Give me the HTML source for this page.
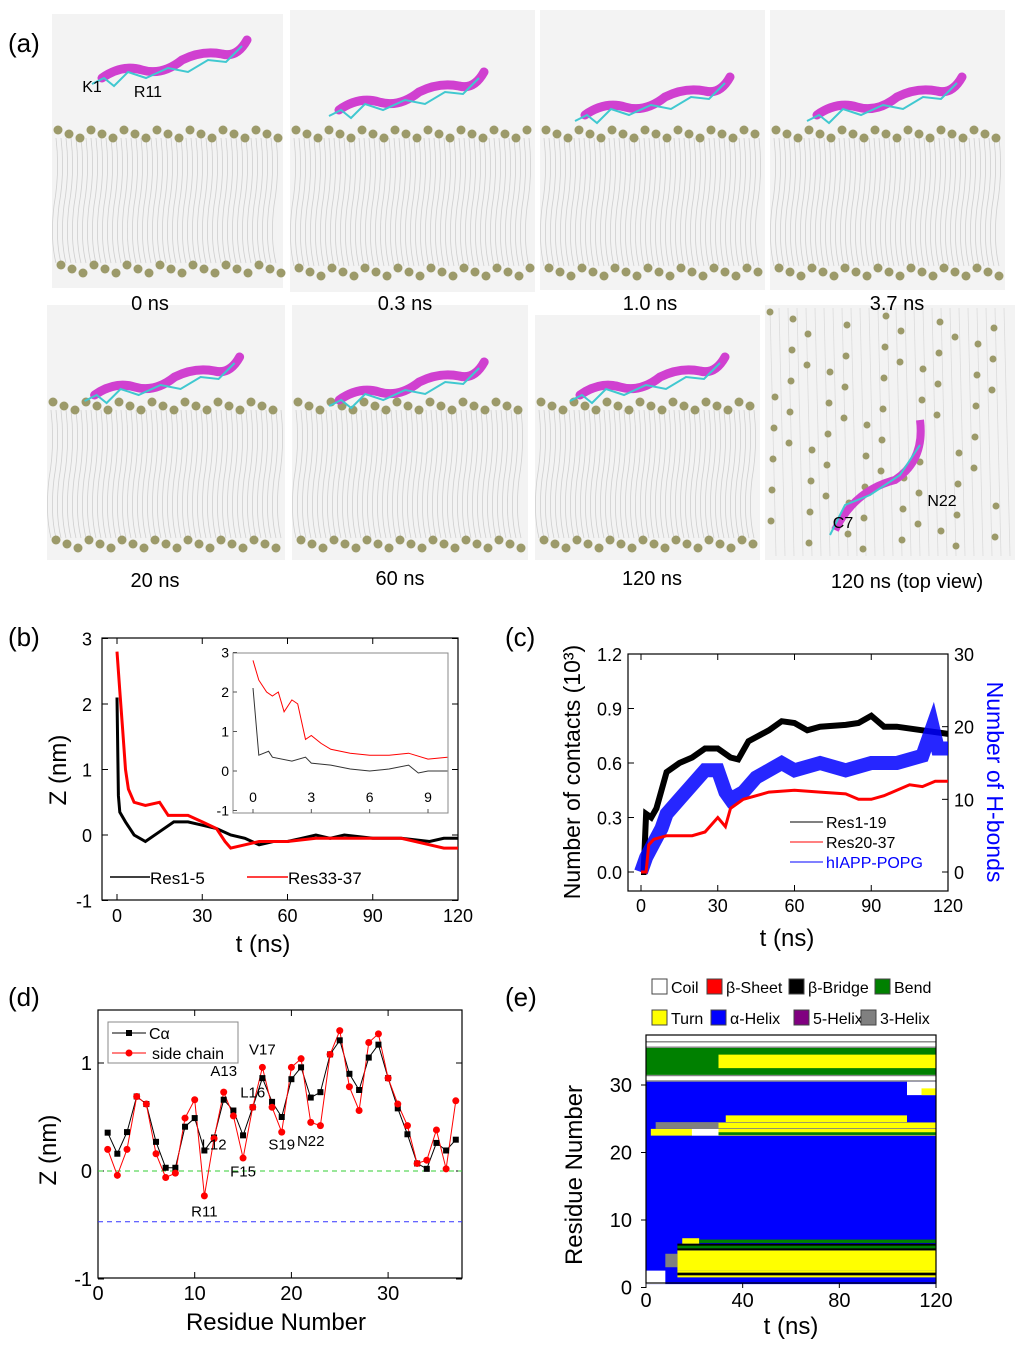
<!DOCTYPE html>
<html><head><meta charset="utf-8"><style>
html,body{margin:0;padding:0;background:#fff;}
svg{display:block;font-family:"Liberation Sans",sans-serif;}
</style></head><body>
<svg id="fig" width="1024" height="1352" viewBox="0 0 1024 1352" xmlns="http://www.w3.org/2000/svg">
<rect width="1024" height="1352" fill="#fff"/>
<g id="pa"></g>
<g id="pb"></g>
<g id="pc"></g>
<g id="pd"></g>
<g id="pe"></g>
<g font-size="26" fill="#000">
<text x="8" y="52">(a)</text>
<text x="8" y="646">(b)</text>
<text x="505" y="646">(c)</text>
<text x="8" y="1006">(d)</text>
<text x="505" y="1006">(e)</text>
</g>
</svg>
<script>
// ---------- data ----------
const bT=[0,0.5,1,3,6,10,15,20,25,30,35,40,45,50,55,60,65,70,75,80,90,100,110,115,120];
const bBlack=[2.1,0.6,0.35,0.2,0.0,-0.1,0.05,0.2,0.2,0.15,0.1,0,-0.05,-0.15,-0.1,-0.1,-0.05,0,-0.05,0,-0.05,-0.05,-0.1,-0.05,-0.05];
const bRedT=[0,1,2,3,4,6,10,15,18,20,25,30,35,38,40,45,50,60,70,80,90,100,110,115,120];
const bRed=[2.8,2.2,1.6,1.0,0.7,0.5,0.45,0.5,0.3,0.3,0.3,0.2,0.1,-0.1,-0.2,-0.15,-0.1,-0.1,-0.05,-0.05,-0.05,-0.05,-0.15,-0.2,-0.2];
const inT1=[0,0.3,0.8,1,2,2.7,3,4,5,6,7,8,8.5,9,10];
const inBlack=[2.1,0.4,0.5,0.35,0.25,0.35,0.2,0.15,0.05,0.0,0.05,0.15,-0.05,0.0,0.0];
const inT2=[0,0.3,0.7,1,1.3,1.6,2,2.3,2.7,3,3.5,4,5,6,7,8,9,10];
const inRed=[2.8,2.3,2.0,1.9,2.0,1.5,1.8,1.7,0.8,0.9,0.7,0.55,0.45,0.4,0.4,0.45,0.3,0.35];
const bXTicks=[0,30,60,90,120];
const bYTicks=[-1,0,1,2,3];
const inXTicks=[0,3,6,9];

const cT1=[0,1,2,4,6,8,10,15,20,25,30,35,38,42,50,55,60,65,70,80,85,90,95,100,110,120];
const cBlack=[0,0,0.32,0.3,0.35,0.45,0.55,0.6,0.63,0.68,0.68,0.63,0.62,0.72,0.78,0.83,0.82,0.78,0.8,0.81,0.82,0.86,0.8,0.8,0.78,0.76];
const cT2=[0,2,3,5,10,20,25,30,33,35,40,50,60,70,80,85,90,95,100,105,110,115,120];
const cRed=[0,0,0.15,0.18,0.2,0.2,0.22,0.3,0.25,0.35,0.4,0.44,0.45,0.44,0.43,0.4,0.4,0.42,0.45,0.48,0.47,0.5,0.5];
const cT3=[0,2,5,8,10,15,20,25,30,33,35,40,45,50,55,60,70,80,90,100,110,114,116,120];
const cBlue=[0,2,4,6,8,10,12,14,14,11,10,11,13,14,15,14,15,14,15,15,16,20,17,17];
const cXTicks=[0,30,60,90,120];
const cYTicks=[0,0.3,0.6,0.9,1.2];
const cYLabels=["0.0","0.3","0.6","0.9","1.2"];
const cRTicks=[0,10,20,30];

const dRes=[1,2,3,4,5,6,7,8,9,10,11,12,13,14,15,16,17,18,19,20,21,22,23,24,25,26,27,28,29,30,31,32,33,34,35,36,37];
const dCa=[0.355,0.16,0.36,0.69,0.62,0.27,0.03,0.03,0.41,0.49,0.19,0.31,0.66,0.56,0.33,0.59,0.86,0.64,0.5,0.85,0.96,0.68,0.73,1.08,1.21,0.9,0.75,1.05,1.17,0.86,0.58,0.34,0.07,0.02,0.26,0.19,0.29];
const dSide=[0.2,-0.04,0.2,0.69,0.62,0.16,-0.06,-0.02,0.49,0.66,-0.23,0.3,0.73,0.51,0.12,0.59,0.96,0.59,0.36,0.96,1.04,0.45,0.42,1.08,1.3,0.78,0.56,1.19,1.27,0.86,0.62,0.42,0.07,0.1,0.38,0.02,0.65];
const dXTicks=[0,10,20,30];
const dYTicks=[-1,0,1];
const dAnnot=[["R11",11,-0.42],["L12",12,0.2],["A13",13,0.88],["F15",15,-0.05],["L16",16,0.68],["V17",17,1.08],["S19",19,0.2],["N22",22,0.23]];

// secondary-structure segments: [resFrom, resTo, tStart, tEnd, state]
const eColors={coil:"#ffffff",sheet:"#ff0000",bridge:"#000000",bend:"#008000",turn:"#ffff00",helix:"#0000ff",h5:"#800080",h3:"#808080"};
const eSegs=[
 [0.5,30.5,0,120,"helix"],
 [0.5,2.5,0,8,"coil"],
 [1.5,2.5,13,120,"turn"],
 [1.8,2.2,13,120,"bridge"],
 [2.5,5.5,13,120,"turn"],
 [3,5,8,13,"h3"],
 [5.5,6.5,13,120,"bridge"],
 [5.8,6.2,13,120,"bend"],
 [6.5,7.3,15,22,"turn"],
 [6.6,7.1,22,120,"bend"],
 [22.5,23.5,2,120,"turn"],
 [22.5,23.5,19,30,"coil"],
 [22.6,23.0,30,120,"bend"],
 [23.5,24.5,4,120,"h3"],
 [23.6,24.4,30,120,"turn"],
 [24.5,25.5,33,108,"turn"],
 [28.5,30.5,108,120,"coil"],
 [28.5,29.5,114,120,"turn"],
 [30.5,31.5,0,120,"h3"],
 [30.7,31.3,0,120,"coil"],
 [31.5,35.5,0,120,"bend"],
 [32.5,34.5,30,108,"turn"],
 [32.5,34.5,108,120,"turn"],
 [35.5,36.5,0,120,"h3"],
 [35.7,36.3,0,120,"coil"]
];
const eXTicks=[0,40,80,120];
const eYTicks=[0,10,20,30];
const eLegend=[["Coil","coil"],["β-Sheet","sheet"],["β-Bridge","bridge"],["Bend","bend"],["Turn","turn"],["α-Helix","helix"],["5-Helix","h5"],["3-Helix","h3"]];

// ---------- helpers ----------
const NS="http://www.w3.org/2000/svg";
function mk(tag,at,parent){const e=document.createElementNS(NS,tag);for(const k in at)e.setAttribute(k,at[k]);parent.appendChild(e);return e;}
function txt(s,x,y,size,anchor,parent,fill){const t=mk("text",{x:x,y:y,"font-size":size,"text-anchor":anchor||"middle",fill:fill||"#000"},parent);t.textContent=s;return t;}
function pts(xs,ys,fx,fy){return xs.map((v,i)=>fx(v).toFixed(1)+","+fy(ys[i]).toFixed(1)).join(" ");}

// ---------- panel a ----------
const pa=document.getElementById("pa");
const snaps=[[52,14,231,274,130,265,"0 ns",150,310,58],[290,10,245,282,130,268,"0.3 ns",405,310,90],[540,10,225,280,130,268,"1.0 ns",650,310,95],[770,10,235,280,130,268,"3.7 ns",897,310,95],
[47,305,238,255,402,540,"20 ns",155,587,375],[292,305,236,255,402,540,"60 ns",400,585,380],[535,315,225,245,402,540,"120 ns",652,585,375]];
snaps.forEach((s,k)=>{
 const g=mk("g",{},pa);
 
 
 mk("rect",{x:s[0],y:s[1],width:s[2],height:s[3],fill:"#f3f3f3"},g);
 for(let x=s[0]+4;x<s[0]+s[2]-2;x+=5){
  mk("path",{d:`M${x},${s[4]+8} q4,${(s[5]-s[4])/4} -2,${(s[5]-s[4])/2} q-4,${(s[5]-s[4])/4} 2,${(s[5]-s[4])/2-10}`,stroke:"#cfcfcf","stroke-width":0.8,fill:"none"},g);
 }
 for(let x=s[0]+6,i=0;x<s[0]+s[2]-4;x+=11,i++){
  mk("circle",{cx:x,cy:s[4]+(i%3)*4,r:4.5,fill:"#9c9a6a"},g);
  mk("circle",{cx:x+3,cy:s[5]+(i%3)*4,r:4.5,fill:"#9c9a6a"},g);
 }
 const px=s[0]+(k==0?50:s[2]*0.2), py=s[9];
 const pep=mk("path",{d:`M${px},${py+20} q20,-14 40,-8 q20,6 40,-10 q20,-10 40,-6 q15,4 25,-14`,stroke:"#d040d0","stroke-width":9,fill:"none","stroke-linecap":"round"},g);
 
 
 mk("path",{d:`M${px-10},${py+26} l12,-6 l10,8 l14,-14 l18,6 l22,-10 l20,4 l20,-12 l18,2 l16,-16`,stroke:"#40c8d0","stroke-width":2,fill:"none"},g);
});
{const g=mk("g",{},pa);
 
 
 mk("rect",{x:765,y:305,width:250,height:255,fill:"#f3f3f3"},g);
 for(let x=770;x<1012;x+=9){mk("line",{x1:x,y1:308,x2:x+6,y2:556,stroke:"#dcdcdc","stroke-width":0.8},g);}
 for(let i=0;i<70;i++){const x=770+(i*37)%240, y=312+(i*53)%240; mk("circle",{cx:x,cy:y,r:3.5,fill:"#9c9a6a"},g);}
 mk("path",{d:"M835,530 q20,-40 60,-50 q30,-20 25,-60",stroke:"#d040d0","stroke-width":8,fill:"none"},g);
 mk("path",{d:"M830,535 l15,-30 l25,-10 l30,-20 l20,-30",stroke:"#40c8d0","stroke-width":2,fill:"none"},g);
 txt("C7",843,528,16,"middle",g); txt("N22",942,506,16,"middle",g);
}
snaps.forEach(s=>{txt(s[6],s[7],s[8],20,"middle",pa);});
txt("120 ns (top view)",907,588,20,"middle",pa);
txt("K1",92,92,16,"middle",pa); txt("R11",148,97,16,"middle",pa);

function box(parent,x0,y0,x1,y1){mk("rect",{x:x0,y:y0,width:x1-x0,height:y1-y0,fill:"none",stroke:"#000","stroke-width":1.2},parent);}

// ---------- panel b ----------
const pb=document.getElementById("pb");
const xb=t=>117+t*341/120, yb=v=>835-v*65.5;
box(pb,102,638,458,900);
bXTicks.forEach(t=>{mk("line",{x1:xb(t),x2:xb(t),y1:900,y2:894,stroke:"#000"},pb);mk("line",{x1:xb(t),x2:xb(t),y1:638,y2:644,stroke:"#000"},pb);txt(t,xb(t),922,18,"middle",pb);});
bYTicks.forEach(v=>{mk("line",{x1:102,x2:108,y1:yb(v),y2:yb(v),stroke:"#000"},pb);mk("line",{x1:458,x2:452,y1:yb(v),y2:yb(v),stroke:"#000"},pb);txt(v,92,yb(v)+7,18,"end",pb);});
txt("t (ns)",263,952,24,"middle",pb);
{const t=txt("Z (nm)",0,0,24,"middle",pb);t.setAttribute("transform","translate(66,770) rotate(-90)");}
let l=mk("polyline",{points:pts(bT,bBlack,xb,yb),fill:"none",stroke:"#000","stroke-width":3},pb);


l=mk("polyline",{points:pts(bRedT,bRed,xb,yb),fill:"none",stroke:"#f00","stroke-width":3},pb);


mk("line",{x1:110,x2:150,y1:877,y2:877,stroke:"#000","stroke-width":1.5},pb);txt("Res1-5",150,884,17,"start",pb);
mk("line",{x1:247,x2:288,y1:877,y2:877,stroke:"#f00","stroke-width":1.5},pb);txt("Res33-37",288,884,17,"start",pb);
const ig=mk("g",{},pb);


mk("rect",{x:233,y:653,width:215,height:160,fill:"#fff",stroke:"#888"},ig);
const xi=t=>253+t*175/9, yi=v=>771-v*39.5;
inXTicks.forEach(t=>{mk("line",{x1:xi(t),x2:xi(t),y1:813,y2:809,stroke:"#555"},ig);txt(t,xi(t),802,14,"middle",ig);});
bYTicks.forEach(v=>{mk("line",{x1:233,x2:237,y1:yi(v),y2:yi(v),stroke:"#555"},ig);txt(v,229,yi(v)+5,14,"end",ig);});
l=mk("polyline",{points:pts(inT1,inBlack,xi,yi),fill:"none",stroke:"#333","stroke-width":1},ig);


l=mk("polyline",{points:pts(inT2,inRed,xi,yi),fill:"none",stroke:"#f00","stroke-width":1},ig);



// ---------- panel c ----------
const pc=document.getElementById("pc");
const xc=t=>641+t*307/120, yl=v=>872-v*218/1.2, yr=h=>872-h*218/30;
box(pc,628,654,948,891);
cXTicks.forEach(t=>{mk("line",{x1:xc(t),x2:xc(t),y1:891,y2:885,stroke:"#000"},pc);mk("line",{x1:xc(t),x2:xc(t),y1:654,y2:660,stroke:"#000"},pc);txt(t,xc(t),912,18,"middle",pc);});
cYTicks.forEach((v,i)=>{mk("line",{x1:628,x2:634,y1:yl(v),y2:yl(v),stroke:"#000"},pc);txt(cYLabels[i],622,yl(v)+7,18,"end",pc);});
cRTicks.forEach(h=>{mk("line",{x1:948,x2:942,y1:yr(h),y2:yr(h),stroke:"#000"},pc);txt(h,954,yr(h)+7,18,"start",pc);});
txt("t (ns)",787,946,24,"middle",pc);
{const t=txt("Number of contacts (10³)",0,0,23,"middle",pc);t.setAttribute("transform","translate(580,772) rotate(-90)");}
{const t=txt("Number of H-bonds",0,0,23,"middle",pc,"#00f");t.setAttribute("transform","translate(987,782) rotate(90)");}
l=mk("polyline",{points:pts(cT1,cBlack,xc,yl),fill:"none",stroke:"#000","stroke-width":6},pc);


l=mk("polyline",{points:pts(cT3,cBlue,xc,yr),fill:"none",stroke:"#00f","stroke-width":14,"stroke-opacity":0.85},pc);


l=mk("polyline",{points:pts(cT2,cRed,xc,yl),fill:"none",stroke:"#f00","stroke-width":3},pc);


mk("line",{x1:790,x2:823,y1:822,y2:822,stroke:"#000"},pc);txt("Res1-19",826,828,16,"start",pc);
mk("line",{x1:790,x2:823,y1:842,y2:842,stroke:"#f00"},pc);txt("Res20-37",826,848,16,"start",pc);
mk("line",{x1:790,x2:823,y1:862,y2:862,stroke:"#00f"},pc);txt("hIAPP-POPG",826,868,16,"start",pc,"#00f");

// ---------- panel d ----------
const pd=document.getElementById("pd");
const xd=r=>98+r*9.67, yd=v=>1171-v*108;
box(pd,98,1010,462,1278);
dXTicks.forEach(t=>{mk("line",{x1:xd(t),x2:xd(t),y1:1278,y2:1272,stroke:"#000"},pd);mk("line",{x1:xd(t),x2:xd(t),y1:1010,y2:1016,stroke:"#000"},pd);txt(t,xd(t),1300,20,"middle",pd);});
dYTicks.forEach(v=>{mk("line",{x1:98,x2:104,y1:yd(v),y2:yd(v),stroke:"#000"},pd);mk("line",{x1:462,x2:456,y1:yd(v),y2:yd(v),stroke:"#000"},pd);txt(v,92,yd(v)+7,20,"end",pd);});
mk("line",{x1:98,x2:462,y1:yd(0),y2:yd(0),stroke:"#3c3","stroke-dasharray":"5,4"},pd);
mk("line",{x1:98,x2:462,y1:yd(-0.47),y2:yd(-0.47),stroke:"#33f","stroke-dasharray":"5,4"},pd);
txt("Residue Number",276,1330,24,"middle",pd);
{const t=txt("Z (nm)",0,0,24,"middle",pd);t.setAttribute("transform","translate(56,1150) rotate(-90)");}
mk("polyline",{points:pts(dRes,dCa,xd,yd),fill:"none",stroke:"#000","stroke-width":1},pd);
mk("polyline",{points:pts(dRes,dSide,xd,yd),fill:"none",stroke:"#f00","stroke-width":1},pd);
dRes.forEach((r,i)=>{
 const s=mk("rect",{x:xd(r)-3,y:yd(dCa[i])-3,width:6,height:6,fill:"#000"},pd);
 
 
 const c=mk("circle",{cx:xd(r),cy:yd(dSide[i]),r:3.5,fill:"#f00"},pd);
 
 
});
dAnnot.forEach(a=>txt(a[0],xd(a[1]),yd(a[2]),15,"middle",pd));
{const lg=mk("g",{},pd);
 
 
 mk("rect",{x:108,y:1022,width:130,height:41,fill:"#fff",stroke:"#888"},lg);
 mk("line",{x1:112,x2:146,y1:1033,y2:1033,stroke:"#000"},lg);mk("rect",{x:126,y:1030,width:6,height:6,fill:"#000"},lg);txt("Cα",149,1039,16,"start",lg);
 mk("line",{x1:112,x2:146,y1:1053,y2:1053,stroke:"#f00"},lg);mk("circle",{cx:129,cy:1053,r:3.5,fill:"#f00"},lg);txt("side chain",152,1059,16,"start",lg);}

// ---------- panel e ----------
const pe=document.getElementById("pe");
const xe=t=>646+t*290/120, ye=r=>1287.5-r*6.75;
mk("rect",{x:646,y:1035,width:290,height:248,fill:"#fff"},pe);
eSegs.forEach(s=>{
 const r=mk("rect",{x:xe(s[2]),y:ye(s[1]),width:xe(s[3])-xe(s[2]),height:ye(s[0])-ye(s[1]),fill:eColors[s[4]]},pe);
 
 
});
box(pe,646,1035,936,1283);
eXTicks.forEach(t=>{mk("line",{x1:xe(t),x2:xe(t),y1:1283,y2:1288,stroke:"#000"},pe);txt(t,xe(t),1307,20,"middle",pe);});
eYTicks.forEach(v=>{mk("line",{x1:646,x2:641,y1:ye(v),y2:ye(v),stroke:"#000"},pe);txt(v,632,ye(v)+7,20,"end",pe);});
txt("t (ns)",791,1334,24,"middle",pe);
{const t=txt("Residue Number",0,0,24,"middle",pe);t.setAttribute("transform","translate(582,1175) rotate(-90)");}
const lgx=[652,707,789,875,652,711,794,861];
eLegend.forEach((e,i)=>{
 const y=i<4?979:1010;
 const r=mk("rect",{x:lgx[i],y:y,width:15,height:15,fill:eColors[e[1]],stroke:"#444"},pe);
 
 
 txt(e[0],lgx[i]+19,y+14,16,"start",pe);
});
</script>
</body></html>
